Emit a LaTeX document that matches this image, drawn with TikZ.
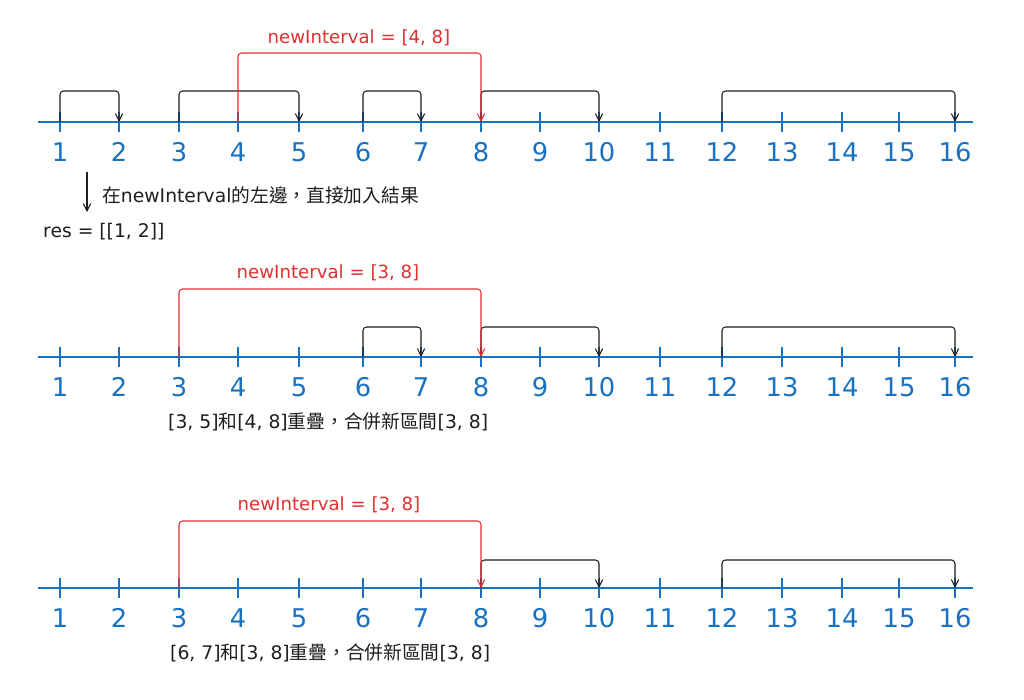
\documentclass[tikz,border=0pt]{standalone}
\usepackage{fontspec}
\setmainfont{DejaVu Sans}
\newfontfamily\cjk{Noto Sans CJK TC}
\usepackage{xcolor}
\usepackage{tikz}
\usetikzlibrary{arrows.meta}
\definecolor{cAxis}{RGB}{25,113,194}
\definecolor{cNew}{RGB}{224,49,49}
\definecolor{cIvl}{RGB}{30,30,30}
\newcommand{\tickxs}{60,119,179,238,299,363,421,481,540,599,660,722,782,842,899,955}

\begin{document}
\begin{tikzpicture}[x=0.03cm, y=-0.03cm,
  axis/.style={draw=cAxis, line width=1.1pt},
  num/.style={text=cAxis, font=\fontsize{22}{24}\selectfont, inner sep=0pt},
  ivl/.style={draw=cIvl, line width=0.9pt, rounded corners=3pt,
              -{Straight Barb[length=2.2mm, width=2.2mm]}},
  newivl/.style={ivl, draw=cNew},
  lbl/.style={text=cNew, font=\fontsize{15.5}{17}\selectfont, inner sep=0pt},
  note/.style={text=cIvl, font=\fontsize{16}{18}\selectfont, inner sep=0pt, anchor=west}]
\fill[white] (0,0) rectangle (1024,700);
\useasboundingbox (0,0) rectangle (1024,700);
% three number lines
\foreach \row/\ya in {1/122, 2/357, 3/588} {
  \draw[axis] (38,\ya) -- (973,\ya);
  \foreach \x [count=\i] in \tickxs {
    \coordinate (r\row-\i) at (\x,\ya);
    \draw[axis] (\x,\ya-10) -- (\x,\ya+10);
    \node[num] (n\row-\i) at (\x,\ya+30) {\i};
  }
}
% row 1
\draw[ivl] (r1-1) -- ++(0,-31) -| (r1-2);
\draw[ivl] (r1-3) -- ++(0,-31) -| (r1-5);
\draw[ivl] (r1-6) -- ++(0,-31) -| (r1-7);
\draw[ivl] (r1-8) -- ++(0,-31) -| (r1-10);
\draw[ivl] (r1-12) -- ++(0,-31) -| (r1-16);
\draw[newivl] (r1-4) -- ++(0,-69) -| (r1-8);
\node[lbl] (new1) at (359,38) {newInterval = [4, 8]};
\node[note] (why) at (102,195) {{\cjk 在}newInterval{\cjk 的左邊，直接加入結果}};
\node[note] (res) at (43,232) {res = [[1, 2]]};
\coordinate (d1) at (87,172);
\coordinate (d2) at (87,212);
\draw[ivl] (d1) -- (d2);
% row 2
\draw[ivl] (r2-6) -- ++(0,-30) -| (r2-7);
\draw[ivl] (r2-8) -- ++(0,-30) -| (r2-10);
\draw[ivl] (r2-12) -- ++(0,-30) -| (r2-16);
\draw[newivl] (r2-3) -- ++(0,-68) -| (r2-8);
\node[lbl] (new2) at (328,273) {newInterval = [3, 8]};
\node[note] (cap2) at (168,422) {[3, 5]{\cjk 和}[4, 8]{\cjk 重疊，合併新區間}[3, 8]};
% row 3
\draw[ivl] (r3-8) -- ++(0,-28) -| (r3-10);
\draw[ivl] (r3-12) -- ++(0,-28) -| (r3-16);
\draw[newivl] (r3-3) -- ++(0,-67) -| (r3-8);
\node[lbl] (new3) at (329,505) {newInterval = [3, 8]};
\node[note] (cap3) at (170,653) {[6, 7]{\cjk 和}[3, 8]{\cjk 重疊，合併新區間}[3, 8]};
\end{tikzpicture}
\end{document}
